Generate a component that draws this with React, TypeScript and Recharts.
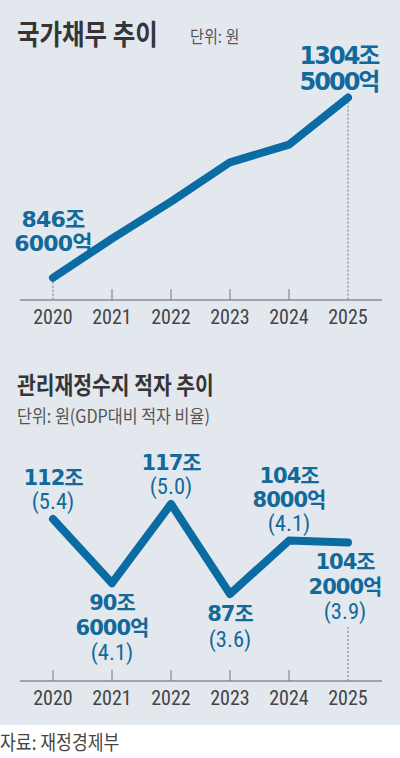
import React from 'react';
import { LineChart, Line, XAxis, YAxis, ReferenceLine } from 'recharts';

const years = ['2020', '2021', '2022', '2023', '2024', '2025'];
const debtValues = [846.6, 946, 1040, 1140, 1185, 1304.5];
const debtLabels: string[][] = [['846조', '6000억'], [], [], [], [], ['1304조', '5000억']];
const deficitValues = [112, 90.6, 117, 87, 104.8, 104.2];
const deficitLabels: string[][] = [
  ['112조'],
  ['90조', '6000억'],
  ['117조'],
  ['87조'],
  ['104조', '8000억'],
  ['104조', '2000억'],
];
const deficitRatios = ['5.4', '4.1', '5.0', '3.6', '4.1', '3.9'];

const debtData = years.map((year, i) => ({ year, value: debtValues[i] }));
const deficitData = years.map((year, i) => ({ year, value: deficitValues[i] }));

const DEBT_DOMAIN: [number, number] = [790, 1400];
const DEFICIT_DOMAIN: [number, number] = [58, 125];
const DEFICIT_GUIDE_TOP = 76;

const BLUE = '#0a6ca3';
const LABEL_BLUE = '#12699b';
const BG = '#e3e8ee';
const BOLD_FONT = '"DejaVu Sans", "Noto Sans CJK KR", sans-serif';
const NARROW_FONT = '"Liberation Sans Narrow", "Roboto Condensed", "DejaVu Sans Condensed", sans-serif';
const KR_FONT = '"Noto Sans CJK KR", sans-serif';

const DEFICIT_ABOVE = [true, false, true, false, true, false];

const DebtDot = (props: any) => {
  const { cx, cy, index } = props;
  const lines = debtLabels[index] || [];
  if (!lines.length) return <g key={`d-${index}`} />;
  const big = index === debtLabels.length - 1;
  const size = big ? 24 : 22;
  const bottom = big ? -8 : -27;
  const dx = big ? -9 : 0;
  const gap = big ? 25.5 : 24;
  return (
    <g key={`d-${index}`}>
      {lines.map((t, k) => (
        <text
          key={k}
          x={cx + dx}
          y={cy + bottom - (lines.length - 1 - k) * gap}
          textAnchor="middle"
          fontFamily={BOLD_FONT}
          fontWeight={700}
          fontSize={size}
          letterSpacing={big ? -2 : -0.8}
          fill={LABEL_BLUE}
        >
          {t}
        </text>
      ))}
    </g>
  );
};

const DeficitDot = (props: any) => {
  const { cx, cy, index } = props;
  const lines = deficitLabels[index] || [];
  const ratio = `(${deficitRatios[index]})`;
  const dx = index === years.length - 1 ? -3 : 0;
  const above = DEFICIT_ABOVE[index];
  const boldY = (k: number) =>
    above ? cy - 34 - (lines.length - 1 - k) * 24 : cy + 27 + k * 24.5;
  const ratioY = above ? cy - 10 : cy + 27 + (lines.length - 1) * 24.5 + 25.5;
  return (
    <g key={`f-${index}`}>
      {lines.map((t, k) => (
        <text
          key={k}
          x={cx + dx}
          y={boldY(k)}
          textAnchor="middle"
          fontFamily={BOLD_FONT}
          fontWeight={700}
          fontSize={21}
          letterSpacing={-1}
          fill={LABEL_BLUE}
        >
          {t}
        </text>
      ))}
      <text
        x={cx + dx}
        y={ratioY}
        textAnchor="middle"
        fontFamily={NARROW_FONT}
        fontSize={22.5}
        fill={LABEL_BLUE}
      >
        {ratio}
      </text>
    </g>
  );
};

const makeTick = (withTick: boolean[]) => (props: any) => {
  const { x, y, payload, index } = props;
  return (
    <g key={`t-${index}`}>
      {withTick[index] ? <line x1={x} x2={x} y1={y - 11} y2={y} stroke="#777" strokeWidth={1} /> : null}
      <text x={x} y={y + 24} textAnchor="middle" fontFamily={NARROW_FONT} fontSize={20} fill="#444">
        {payload.value}
      </text>
    </g>
  );
};

const debtTick = makeTick([false, true, true, true, true, false]);
const deficitTick = makeTick([true, true, true, true, true, false]);

export default function App() {
  return (
    <div style={{ position: 'absolute', left: 0, top: 0, width: 400, height: 758, background: '#fff', overflow: 'hidden' }}>
      <div style={{ position: 'absolute', left: 0, top: 0, width: 400, height: 725, background: BG }} />
      <div style={{ position: 'absolute', left: 0, top: 0 }}>
        <LineChart width={400} height={340} data={debtData} margin={{ top: 60, right: 18, bottom: 10, left: 20 }}>
          <XAxis
            dataKey="year"
            interval={0}
            padding={{ left: 33, right: 34 }}
            axisLine={{ stroke: '#8c8c8c', strokeWidth: 1.5 }}
            tickLine={false}
            tickSize={0}
            tickMargin={0}
            height={30}
            tick={debtTick}
          />
          <YAxis hide domain={DEBT_DOMAIN} type="number" />
          <ReferenceLine
            segment={[{ x: years[0], y: debtValues[0] }, { x: years[0], y: DEBT_DOMAIN[0] }]}
            stroke="#777"
            strokeDasharray="2 2"
            ifOverflow="visible"
          />
          <ReferenceLine
            segment={[{ x: years[5], y: debtValues[5] }, { x: years[5], y: DEBT_DOMAIN[0] }]}
            stroke="#777"
            strokeDasharray="2 2"
            ifOverflow="visible"
          />
          <Line
            dataKey="value"
            type="linear"
            stroke={BLUE}
            strokeWidth={8}
            strokeLinecap="round"
            strokeLinejoin="round"
            dot={DebtDot}
            activeDot={false}
            isAnimationActive={false}
          />
        </LineChart>
      </div>
      <div style={{ position: 'absolute', left: 0, top: 360 }}>
        <LineChart width={400} height={365} data={deficitData} margin={{ top: 120, right: 18, bottom: 14, left: 20 }}>
          <XAxis
            dataKey="year"
            interval={0}
            padding={{ left: 33, right: 34 }}
            axisLine={{ stroke: '#8c8c8c', strokeWidth: 1.5 }}
            tickLine={false}
            tickSize={0}
            tickMargin={0}
            height={30}
            tick={deficitTick}
          />
          <YAxis hide domain={DEFICIT_DOMAIN} type="number" />
          <ReferenceLine
            segment={[{ x: years[5], y: DEFICIT_GUIDE_TOP }, { x: years[5], y: DEFICIT_DOMAIN[0] }]}
            stroke="#777"
            strokeDasharray="2 2"
            ifOverflow="visible"
          />
          <Line
            dataKey="value"
            type="linear"
            stroke={BLUE}
            strokeWidth={8}
            strokeLinecap="round"
            strokeLinejoin="round"
            dot={DeficitDot}
            activeDot={false}
            isAnimationActive={false}
          />
        </LineChart>
      </div>
      <svg width={400} height={758} style={{ position: 'absolute', left: 0, top: 0, pointerEvents: 'none' }}>
        <text transform="translate(17,45) scale(0.86,1)" fontFamily={KR_FONT} fontWeight={700} fontSize={28.5} fill="#353535">
          국가채무 추이
        </text>
        <text transform="translate(190,43) scale(0.89,1)" fontFamily={KR_FONT} fontSize={17} fill="#555">
          단위: 원
        </text>
        <text transform="translate(17,394) scale(0.85,1)" fontFamily={KR_FONT} fontWeight={700} fontSize={24} fill="#353535">
          관리재정수지 적자 추이
        </text>
        <text transform="translate(17,423) scale(0.9,1)" fontFamily={KR_FONT} fontSize={18} fill="#555">
          단위: 원(GDP대비 적자 비율)
        </text>
        <text transform="translate(0,750) scale(0.86,1)" fontFamily={KR_FONT} fontSize={20} fill="#444">
          자료: 재정경제부
        </text>
      </svg>
    </div>
  );
}
